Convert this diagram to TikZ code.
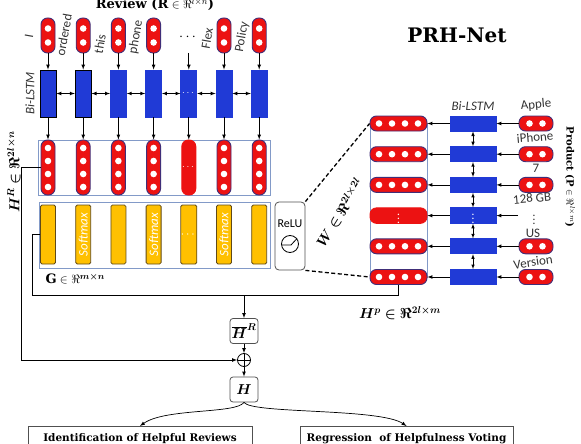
\documentclass[tikz,border=0pt]{standalone}
\usepackage{fontspec}
\usepackage{amsmath}
\usepackage{amssymb}
\usepackage{bm}
\usetikzlibrary{arrows, calc}
\setmainfont{DejaVu Serif}
\newfontfamily\calfont{Carlito}
\definecolor{pillred}{RGB}{236, 18, 18}
\definecolor{pillrim}{RGB}{64, 46, 120}
\definecolor{lstmblue}{RGB}{32, 58, 214}
\definecolor{softgold}{RGB}{255, 192, 0}
\definecolor{goldrim}{RGB}{96, 74, 24}
\definecolor{framegray}{RGB}{80, 80, 80}
\definecolor{groupblue}{RGB}{130, 154, 200}
\definecolor{wordgray}{RGB}{50, 50, 50}

\tikzset{
    wordpill/.style={draw=pillrim, fill=pillred, line width=0.9pt, rounded corners=6.5pt,
          minimum width=14pt, minimum height=35pt, inner sep=0pt, text=white},
    tallpill/.style={wordpill, minimum height=55pt},
    widepill/.style={wordpill, minimum width=57pt, minimum height=15pt},
    shortpill/.style={wordpill, minimum width=34pt, minimum height=15pt},
    lstmbox/.style={draw=lstmblue, fill=lstmblue, line width=0.8pt, minimum width=16pt,
          minimum height=47pt, inner sep=0pt, text=white},
    lstmrow/.style={lstmbox, minimum width=46pt, minimum height=15pt},
    gbox/.style={draw=goldrim, fill=softgold, line width=0.8pt, rounded corners=1.5pt,
          minimum width=15pt, minimum height=59pt, inner sep=0pt, text=white,
          font=\calfont\itshape\fontsize{13}{13}\selectfont},
    groupframe/.style={draw=groupblue, line width=0.8pt},
    wordlab/.style={text=wordgray, font=\calfont\fontsize{13}{13}\selectfont, inner sep=0pt},
    lstmlab/.style={text=wordgray, font=\calfont\itshape\fontsize{13}{13}\selectfont, inner sep=0pt},
    mixbox/.style={draw=framegray, line width=0.8pt, rounded corners=3pt, minimum width=28pt,
          minimum height=25pt, inner sep=0pt, font=\fontsize{14}{14}\selectfont},
    taskbox/.style={draw=framegray, line width=0.9pt, minimum height=24pt, inner sep=0pt,
          anchor=north, font=\bfseries\fontsize{10.5}{10.5}\selectfont},
    conn/.style={-latex, line width=0.7pt},
}

\begin{document}
\begin{tikzpicture}[x=1pt, y=-1pt]
    \useasboundingbox (0,0) rectangle (581,444);

    \node[anchor=base, font=\bfseries\fontsize{13}{13}\selectfont] (revtitle) at (155,9) {Review ($\mathbf{R}\in\Re^{l\times n}$)};
    \node[font=\bfseries\fontsize{20}{20}\selectfont] (nettitle) at (457,35) {PRH-Net};

    % review words
    \foreach \i/\x in {1/48,2/83.2,3/118.4,4/153.6,6/224,7/259.2}{
        \node[wordpill] (w\i) at (\x,35.5) {};
        \fill[white] (\x,28.5) circle (3.3) (\x,42.5) circle (3.3);
    }
    \node[font=\Large] (w5) at (188.8,37) {$\cdots$};
    \coordinate (w5tail) at (188.8,53);
    \node[wordlab, rotate=80] (t1) at (29,36) {I};
    \node[wordlab, rotate=80] (t2) at (64,35) {ordered};
    \node[wordlab, rotate=80] (t3) at (100,44) {this};
    \node[wordlab, rotate=80] (t4) at (136,37) {phone};
    \node[wordlab, rotate=80] (t6) at (207,38) {Flex};
    \node[wordlab, rotate=80] (t7) at (242,37) {Policy};

    % review Bi-LSTM
    \foreach \i/\x/\rim in {1/48/black,2/83.2/black,3/118.4/lstmblue,4/153.6/lstmblue,6/224/lstmblue,7/259.2/lstmblue}
        \node[lstmbox, draw=\rim] (l\i) at (\x,93.5) {};
    \node[lstmbox] (l5) at (188.8,93.5) {\bfseries$\cdots$};
    \node[lstmlab, rotate=90] (bilstm1) at (30,93.5) {Bi-LSTM};
    \foreach \i/\j in {1/2,2/3,3/4,4/5,5/6,6/7}
        \draw[latex-latex, line width=0.7pt] (l\i) -- (l\j);
    \foreach \i in {1,2,3,4,6,7}
        \draw[conn] (w\i) -- (l\i);
    \draw[conn] (w5tail) -- (l5);

    % H^R
    \draw[groupframe] (38,140) rectangle (270,195);
    \foreach \i/\x in {1/48,2/83.2,3/118.4,4/153.6,6/224,7/259.2}{
        \node[tallpill] (hr\i) at (\x,167.5) {};
        \foreach \y in {148,161,174,187}
            \fill[white] (\x,\y) circle (3.3);
    }
    \node[tallpill, draw=pillred] (hr5) at (188.8,167.5) {\bfseries$\cdots$};
    \foreach \i in {1,...,7}
        \draw[conn] (l\i) -- (hr\i);
    \node[rotate=90, font=\fontsize{14}{14}\selectfont] (hrlab) at (14,172) {$\bm{H^{R}\in\Re^{2l\times n}}$};

    % G
    \draw[groupframe] (39,202) rectangle (270,268);
    \foreach \i/\x in {1/48,3/118.4,7/259.2}
        \node[gbox] (g\i) at (\x,234.5) {};
    \foreach \i/\x in {2/83.2,4/153.6,6/224}
        \node[gbox] (g\i) at (\x,234.5) {\rotatebox{90}{Softmax}};
    \node[gbox] (g5) at (188.8,234.5) {\bfseries$\cdots$};
    \node[anchor=west, font=\fontsize{13}{13}\selectfont] (glab) at (42,279) {$\mathbf{G}\in\Re^{\bm{m\times n}}$};

    % ReLU
    \node[draw=framegray, line width=0.8pt, rounded corners=4pt, minimum width=30pt, minimum height=68pt] (relu) at (290,236) {};
    \node[wordlab, text=black, font=\calfont\fontsize{12}{12}\selectfont] (relutxt) at (290,224) {ReLU};
    \draw[line width=0.8pt] (290,244) circle (8.5);
    \draw[line width=0.8pt] (281.5,245) -- (291,245) -- (297,238.5);

    % product side
    \draw[groupframe] (370,123.5) rectangle (427,277);
    \foreach \i/\y in {1/123.5,2/154.2,3/184.9,5/246.3,6/277}{
        \node[widepill] (hp\i) at (398.5,\y) {};
        \foreach \x in {379,392,405,418}
            \fill[white] (\x,\y) circle (3.3);
        \node[lstmrow] (pl\i) at (473,\y) {};
        \node[shortpill] (pw\i) at (536,\y) {};
        \fill[white] (529.5,\y) circle (3.3) (542.5,\y) circle (3.3);
        \draw[conn] (pw\i) -- (pl\i);
    }
    \node[widepill, draw=pillred, font=\footnotesize] (hp4) at (398.5,215.6) {\bfseries$\vdots$};
    \node[lstmrow, font=\footnotesize] (pl4) at (473,215.6) {\bfseries$\vdots$};
    \coordinate (pw4) at (518,215.6);
    \draw[conn] (pw4) -- (pl4);
    \foreach \i in {1,...,6}
        \draw[conn] (pl\i) -- (hp\i);
    \foreach \i/\j in {1/2,2/3,3/4,4/5,5/6}
        \draw[latex-latex, line width=0.6pt] (pl\i) -- (pl\j);
    \node[lstmlab] (bilstm2) at (473,106) {Bi-LSTM};
    \node[wordlab, rotate=5] (apple) at (536,105) {Apple};
    \node[wordlab, rotate=5] (iphone) at (535,137) {iPhone};
    \node[wordlab] (seven) at (536,168) {7};
    \node[wordlab, rotate=5] (gb) at (532,198) {128 GB};
    \node[wordlab, font=\bfseries\footnotesize] (vdots) at (534,217) {$\vdots$};
    \node[wordlab] (us) at (533,233) {US};
    \node[wordlab, rotate=8] (version) at (533,262) {Version};
    \node[rotate=-90, font=\bfseries\fontsize{10}{10}\selectfont] (prodlab) at (570,177) {Product ($\mathbf{P}\in\Re^{l\times m}$)};
    \node[font=\fontsize{14}{14}\selectfont] (hplab) at (400,313) {$\bm{H^{p}\in\Re^{2l\times m}}$};

    \draw[dashed, line width=1.3pt, dash pattern=on 4pt off 2.5pt] (relu.north east) -- (hp1.west);
    \draw[dashed, line width=1.3pt, dash pattern=on 4pt off 2.5pt] (relu.south east) -- (hp6.west);
    \node[rotate=58, font=\fontsize{14}{14}\selectfont] (wlab) at (340,213) {$\bm{W\in\Re^{2l\times 2l}}$};

    % fusion
    \node[mixbox] (hbar) at (244,331) {$\overline{\bm{H}}^{\bm{R}}$};
    \node[draw, circle, line width=0.8pt, minimum size=13pt, inner sep=0pt] (oplus) at (244,360) {};
    \draw[line width=0.8pt] (oplus.north) -- (oplus.south) (oplus.west) -- (oplus.east);
    \node[mixbox] (hfin) at (244,389.5) {$\bm{H}$};
    \coordinate (mix) at (244,295.5);
    \draw[line width=0.7pt] (g1.west) -- ++(-7.5,0) |- (mix) -| (hp6.south);
    \draw[conn] (mix) -- (hbar);
    \draw[conn] (hr1.west) -- ++(-19,0) |- (oplus);
    \draw[conn] (hbar) -- (oplus);
    \draw[conn] (oplus) -- (hfin);

    % tasks
    \node[taskbox, minimum width=224pt] (task1) at (140,426) {Identification of Helpful Reviews};
    \node[taskbox, minimum width=213pt] (task2) at (406.5,426) {Regression\ \ of Helpfulness Voting};
    \draw[conn] (hfin.south) .. controls (236,414) and (165,408) .. (task1.north);
    \draw[conn] (hfin.south) .. controls (252,414) and (380,408) .. (task2.north);
\end{tikzpicture}
\end{document}
